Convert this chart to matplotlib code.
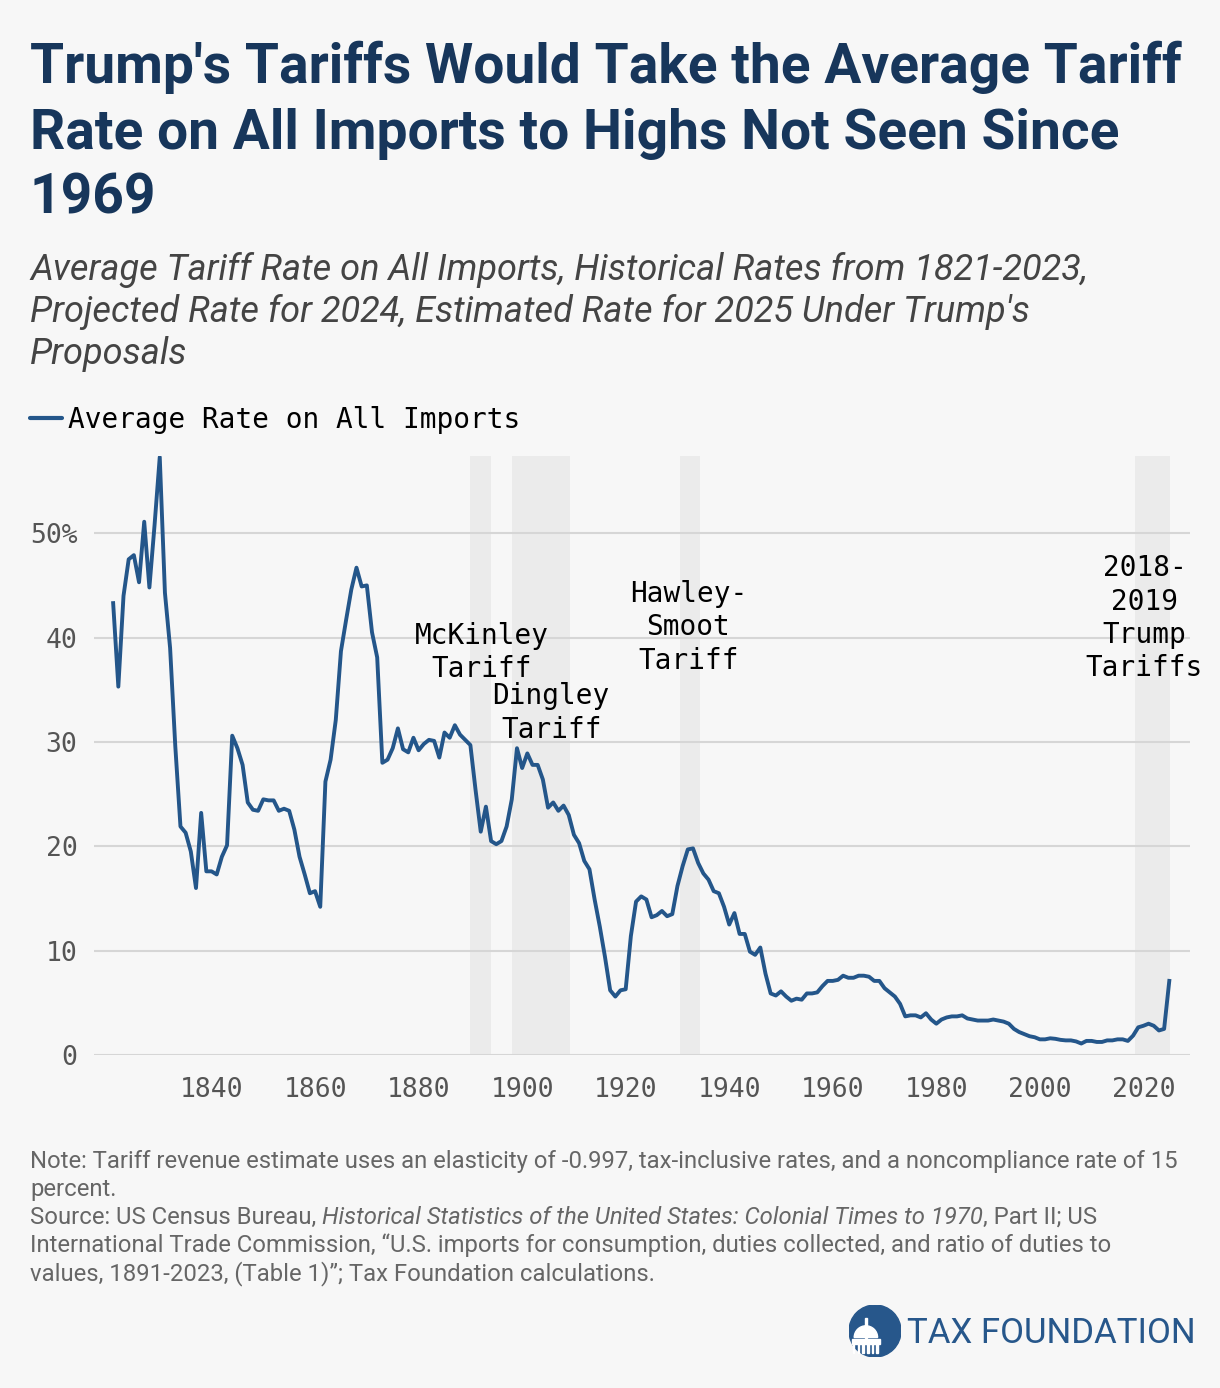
import matplotlib
matplotlib.use('Agg')
import matplotlib.pyplot as plt
import matplotlib.transforms as mtransforms
from matplotlib.lines import Line2D
from matplotlib.patches import Circle, Wedge, Rectangle

# average tariff rate on all imports, 1821-2025 (2024 projected, 2025 estimated)
years = list(range(1821, 2026))
rates = [
    43.3, 35.3, 44.0, 47.5, 47.9, 45.3, 51.1, 44.8, 50.8, 57.3,   # 1821-1830
    44.3, 39.0, 29.6, 21.9, 21.3, 19.5, 16.0, 23.2, 17.6, 17.6,   # 1831-1840
    17.3, 19.0, 20.1, 30.6, 29.4, 27.8, 24.2, 23.5, 23.4, 24.5,   # 1841-1850
    24.4, 24.4, 23.4, 23.6, 23.4, 21.6, 19.0, 17.3, 15.5, 15.7,   # 1851-1860
    14.2, 26.2, 28.3, 32.1, 38.7, 41.7, 44.6, 46.7, 44.9, 45.0,   # 1861-1870
    40.5, 38.1, 28.0, 28.3, 29.4, 31.3, 29.3, 29.0, 30.4, 29.2,   # 1871-1880
    29.8, 30.2, 30.1, 28.5, 30.9, 30.4, 31.6, 30.7, 30.2, 29.7,   # 1881-1890
    25.4, 21.4, 23.8, 20.5, 20.2, 20.5, 21.9, 24.5, 29.4, 27.5,   # 1891-1900
    28.9, 27.8, 27.8, 26.4, 23.7, 24.2, 23.4, 23.9, 23.0, 21.1,   # 1901-1910
    20.3, 18.6, 17.8, 14.9, 12.3, 9.4, 6.2, 5.6, 6.2, 6.3,        # 1911-1920
    11.4, 14.7, 15.2, 14.9, 13.2, 13.4, 13.8, 13.3, 13.5, 16.2,   # 1921-1930
    18.1, 19.7, 19.8, 18.4, 17.4, 16.8, 15.7, 15.5, 14.2, 12.5,   # 1931-1940
    13.6, 11.6, 11.6, 9.9, 9.6, 10.3, 7.8, 5.9, 5.7, 6.1,         # 1941-1950
    5.6, 5.2, 5.4, 5.3, 5.9, 5.9, 6.0, 6.6, 7.1, 7.1,             # 1951-1960
    7.2, 7.6, 7.4, 7.4, 7.6, 7.6, 7.5, 7.1, 7.1, 6.4,             # 1961-1970
    6.0, 5.6, 4.9, 3.7, 3.8, 3.8, 3.6, 4.0, 3.4, 3.0,             # 1971-1980
    3.4, 3.6, 3.7, 3.7, 3.8, 3.5, 3.4, 3.3, 3.3, 3.3,             # 1981-1990
    3.4, 3.3, 3.2, 3.0, 2.5, 2.2, 2.0, 1.8, 1.7, 1.5,             # 1991-2000
    1.5, 1.6, 1.55, 1.45, 1.4, 1.4, 1.3, 1.1, 1.35, 1.35,         # 2001-2010
    1.25, 1.25, 1.4, 1.4, 1.5, 1.5, 1.35, 1.85, 2.65, 2.8,        # 2011-2020
    3.0, 2.8, 2.35, 2.5, 7.1,                                     # 2021-2025
]

band_starts = [1890, 1898, 1930.5, 2018.3]
band_ends = [1894, 1909.2, 1934.3, 2025.2]
band_labels = [['McKinley', 'Tariff'], ['Dingley', 'Tariff'],
               ['Hawley-', 'Smoot', 'Tariff'], ['2018-', '2019', 'Trump', 'Tariffs']]
label_x = [1892.2, 1905.6, 1932.1, 2020.2]
label_tops = [644, 704, 602, 576]   # baseline of first line, px from top

xticks = [1840, 1860, 1880, 1900, 1920, 1940, 1960, 1980, 2000, 2020]
yticks = [0, 10, 20, 30, 40, 50]
ytick_labels = ['0', '10', '20', '30', '40', '50%']

BG = '#f7f7f7'
LINE = '#24568a'
TITLE = '#17365b'
MONO = 'DejaVu Sans Mono'

W, H = 1220, 1388

def fx(px):
    return px / W

def fy(py):
    return 1 - py / H

fig = plt.figure(figsize=(W / 100, H / 100), dpi=100, facecolor=BG)

# title and subtitle
title_lines = ["Trump's Tariffs Would Take the Average Tariff",
               "Rate on All Imports to Highs Not Seen Since",
               "1969"]
for i, t in enumerate(title_lines):
    fig.text(fx(30), fy(83 + i * 65.5), t, fontfamily='Roboto', fontweight='bold',
             fontsize=39.7, color=TITLE, va='baseline')

sub_lines = ["Average Tariff Rate on All Imports, Historical Rates from 1821-2023,",
             "Projected Rate for 2024, Estimated Rate for 2025 Under Trump's",
             "Proposals"]
for i, t in enumerate(sub_lines):
    fig.text(fx(30), fy(280 + i * 42), t, fontfamily='Roboto', fontstyle='italic',
             fontsize=26, color='#444444', va='baseline')

# legend
fig.add_artist(Line2D([fx(30), fx(62)], [fy(418), fy(418)], color=LINE, lw=3,
                      solid_capstyle='round'))
fig.text(fx(68), fy(428), 'Average Rate on All Imports', fontfamily=MONO,
         fontsize=20, color='black', va='baseline')

# main chart
ax = fig.add_axes([fx(94), fy(1055), fx(1190) - fx(94), fy(456) - fy(1055)])
ax.set_facecolor(BG)
for s, e in zip(band_starts, band_ends):
    ax.axvspan(s, e, color='#ebebeb', lw=0, zorder=0.2)
ax.plot(years, rates, color=LINE, lw=2.8, zorder=3, solid_joinstyle='round')
ax.set_xlim(1817.3, 2029)
ax.set_ylim(0, 57.4)
ax.set_xticks(xticks)
ax.set_yticks(yticks)
ax.set_yticklabels(ytick_labels)
ax.set_axisbelow(True)
ax.grid(axis='y', color='#d6d6d6', lw=1.5)
ax.grid(axis='x', visible=False)
for sp in ax.spines.values():
    sp.set_visible(False)
ax.tick_params(length=0, labelsize=19, labelcolor='#555555')
ax.tick_params(axis='x', pad=16)
ax.tick_params(axis='y', pad=12)
for lab in ax.get_xticklabels() + ax.get_yticklabels():
    lab.set_fontfamily(MONO)

blend = mtransforms.blended_transform_factory(ax.transData, fig.transFigure)
for lines, x0, top in zip(band_labels, label_x, label_tops):
    for j, t in enumerate(lines):
        ax.text(x0, fy(top + j * 33.5), t, transform=blend, ha='center', va='baseline',
                fontfamily=MONO, fontsize=20, color='black', zorder=5, clip_on=False)

# footer
overlay = fig.add_axes([0, 0, 1, 1], facecolor='none')
overlay.axis('off')
overlay.set_xlim(0, 1)
overlay.set_ylim(0, 1)
note_kw = dict(fontfamily='Roboto', fontsize=17.2, color='#666666')
overlay.text(fx(30), fy(1168), 'Note: Tariff revenue estimate uses an elasticity of -0.997, '
             'tax-inclusive rates, and a noncompliance rate of 15', va='baseline', **note_kw)
overlay.text(fx(30), fy(1196), 'percent.', va='baseline', **note_kw)
s1 = overlay.text(fx(30), fy(1224), 'Source: US Census Bureau, ', va='baseline', **note_kw)
s2 = overlay.annotate('Historical Statistics of the United States: Colonial Times to 1970',
                      xy=(1, 0), xycoords=s1, va='bottom', ha='left', fontstyle='italic',
                      **note_kw)
overlay.annotate(', Part II; US', xy=(1, 0), xycoords=s2, va='bottom', ha='left', **note_kw)
overlay.text(fx(30), fy(1252), 'International Trade Commission, \u201cU.S. imports for '
             'consumption, duties collected, and ratio of duties to', va='baseline', **note_kw)
overlay.text(fx(30), fy(1280), 'values, 1891-2023, (Table 1)\u201d; Tax Foundation calculations.',
             va='baseline', **note_kw)

# logo
logo = fig.add_axes([fx(849), fy(1357), 52 / W, 52 / H])
logo.set_xlim(-1, 1)
logo.set_ylim(-1, 1)
logo.set_aspect('equal')
logo.axis('off')
logo.add_patch(Circle((0, 0), 1, color='#27578b'))
logo.add_patch(Wedge((-0.35, -0.25), 0.45, 0, 180, color='white'))
logo.add_patch(Rectangle((-0.4, -0.25), 0.1, 0.75, color='white'))
logo.add_patch(Rectangle((-0.9, -0.5), 1.1, 0.2, color='white'))
for k in range(6):
    logo.add_patch(Rectangle((-0.85 + k * 0.18, -0.85), 0.06, 0.35, color='white'))
fig.text(fx(907), fy(1343), 'TAX FOUNDATION', fontfamily='Roboto', fontsize=25,
         color='#27578b', va='baseline')

fig.savefig('out.png', dpi=100, facecolor=BG)
